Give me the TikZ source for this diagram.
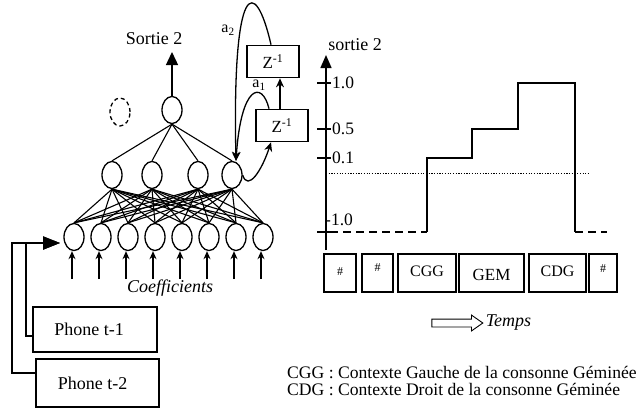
\documentclass[tikz,border=0pt]{standalone}
\usepackage{fontspec}
\setmainfont{Liberation Serif}
\usepackage{tikz}
\usetikzlibrary{
  positioning,
  shapes.geometric,
  shapes.arrows,
  arrows.meta,
  calc
}
\definecolor{inkcol}{RGB}{0,0,0}
\tikzset{
  neuron/.style={
    ellipse,
    draw=inkcol,
    line width=1.3pt,
    minimum width=20pt,
    minimum height=27pt,
    inner sep=0pt
  },
  ghost/.style={
    neuron,
    dash pattern=on 4pt off 3pt,
    minimum height=28pt
  },
  delaybox/.style={
    rectangle,
    draw=inkcol,
    line width=1.7pt,
    minimum width=52pt,
    minimum height=32pt,
    inner sep=0pt,
    font=\fontsize{17}{17}\selectfont
  },
  phonebox/.style={
    rectangle,
    draw=inkcol,
    line width=1.7pt,
    inner sep=0pt
  },
  segbox/.style={
    rectangle,
    draw=inkcol,
    line width=2pt,
    minimum height=38pt,
    inner sep=0pt
  },
  link/.style={line width=1.1pt, color=inkcol},
  inarrow/.style={-{Stealth[length=8pt,width=7pt]}, line width=1.3pt},
  outarrow/.style={-{Triangle[length=13pt,width=12pt]}, line width=1.4pt},
  looparrow/.style={-{Stealth[length=9pt,width=8pt]}, line width=1.3pt},
  feedarrow/.style={-{Triangle[length=17pt,width=13pt]}, line width=1.8pt},
  steps/.style={line width=1.8pt},
  lowlevel/.style={line width=1.8pt, dash pattern=on 8pt off 5pt},
  threshold/.style={line width=1pt, dash pattern=on 1.2pt off 1.5pt},
  bigtext/.style={font=\fontsize{18}{18}\selectfont, inner sep=0pt},
  ticktext/.style={font=\fontsize{17.5}{17.5}\selectfont, inner sep=0pt, anchor=west},
  segtext/.style={font=\fontsize{16}{16}\selectfont, inner sep=0pt},
  hashtext/.style={font=\fontsize{12}{12}\selectfont, inner sep=0pt}
}

\begin{document}
\begin{tikzpicture}[x=1pt, y=-1pt]
  \useasboundingbox (0,0) rectangle (644,408);

  % Output neuron
  \node[neuron] (top) at (172,110) {};
  \node[ghost] (spare) at (120,112) {};
  \coordinate (outtip) at (172,52);
  \node[bigtext] at (154,39) {Sortie 2};
  \draw[outarrow] (top.north) -- (outtip);

  % Hidden layer
  \node[neuron] (hid1) at (112,175) {};
  \node[neuron] (hid2) at (152,175) {};
  \node[neuron] (hid3) at (198,175) {};
  \node[neuron] (hid4) at (232,175) {};

  % Input layer
  \node[neuron] (in1) at (74,237) {};
  \node[neuron] (in2) at (101,237) {};
  \node[neuron] (in3) at (128,237) {};
  \node[neuron] (in4) at (155,237) {};
  \node[neuron] (in5) at (182,237) {};
  \node[neuron] (in6) at (209,237) {};
  \node[neuron] (in7) at (236,237) {};
  \node[neuron] (in8) at (263,237) {};

  % Connections
  \draw[link] (top.south) edge (hid1.north) edge (hid2.north) edge (hid3.north) edge (hid4.north);
  \draw[link] (hid1.south) edge (in1.north) edge (in2.north) edge (in3.north) edge (in4.north)
    edge (in5.north) edge (in6.north) edge (in7.north) edge (in8.north);
  \draw[link] (hid2.south) edge (in1.north) edge (in2.north) edge (in3.north) edge (in4.north)
    edge (in5.north) edge (in6.north) edge (in7.north) edge (in8.north);
  \draw[link] (hid3.south) edge (in1.north) edge (in2.north) edge (in3.north) edge (in4.north)
    edge (in5.north) edge (in6.north) edge (in7.north) edge (in8.north);
  \draw[link] (hid4.south) edge (in1.north) edge (in2.north) edge (in3.north) edge (in4.north)
    edge (in5.north) edge (in6.north) edge (in7.north) edge (in8.north);

  % Coefficient inputs
  \draw[inarrow] ([xshift=-2pt,yshift=-28pt]in1.south) -- ([xshift=-2pt]in1.south);
  \draw[inarrow] ([xshift=-2pt,yshift=-28pt]in2.south) -- ([xshift=-2pt]in2.south);
  \draw[inarrow] ([xshift=-2pt,yshift=-28pt]in3.south) -- ([xshift=-2pt]in3.south);
  \draw[inarrow] ([xshift=-2pt,yshift=-28pt]in4.south) -- ([xshift=-2pt]in4.south);
  \draw[inarrow] ([xshift=-2pt,yshift=-28pt]in5.south) -- ([xshift=-2pt]in5.south);
  \draw[inarrow] ([xshift=-2pt,yshift=-28pt]in6.south) -- ([xshift=-2pt]in6.south);
  \draw[inarrow] ([xshift=-2pt,yshift=-28pt]in7.south) -- ([xshift=-2pt]in7.south);
  \draw[inarrow] ([xshift=-2pt,yshift=-28pt]in8.south) -- ([xshift=-2pt]in8.south);
  \node[bigtext, font=\fontsize{18}{18}\selectfont\itshape] at (170,288) {Coefficients};

  % Delay loop
  \node[delaybox] (upz) at (273,61.5) {Z\textsuperscript{-1}};
  \node[delaybox] (lowz) at (282,125.5) {Z\textsuperscript{-1}};
  \draw[looparrow] ([xshift=-2pt]lowz.north) -- ([xshift=7pt]upz.south);
  \draw[looparrow] (hid4.east) .. controls (248,192) and (262,170) .. ([xshift=-11pt]lowz.south);
  \draw[looparrow] ([xshift=-13pt]lowz.north) .. controls (262,80) and (241,85) .. ([xshift=4pt]hid4.north);
  \draw[looparrow] ([xshift=-2pt]upz.north) .. controls (255,-25) and (232,-20) .. ([xshift=4pt]hid4.north);
  \node[bigtext, font=\fontsize{16}{16}\selectfont] at (228,30) {a\textsubscript{2}};
  \node[bigtext, font=\fontsize{16}{16}\selectfont] at (259,85) {a\textsubscript{1}};

  % Previous phones
  \node[phonebox, minimum width=124pt, minimum height=45pt] (phone1) at (95,329.5) {};
  \node[bigtext] at ([xshift=-6pt]phone1) {Phone t-1};
  \node[phonebox, minimum width=123pt, minimum height=48pt] (phone2) at (97.5,383) {};
  \node[bigtext] at ([xshift=-5pt]phone2) {Phone t-2};
  \coordinate (entry) at (60,243);
  \draw[feedarrow] ([yshift=10pt]phone2.west) -- ++(-23,0) |- (entry);
  \draw[feedarrow] ([yshift=-6.5pt]phone1.west) -- ++(-6,0) |- (entry);

  % Output chart
  \coordinate (axbot) at (326,250);
  \coordinate (axtop) at (326,55);
  \draw[-{Triangle[length=13pt,width=11pt]}, line width=1.5pt] (axbot) -- (axtop);
  \node[bigtext] at (355,45) {sortie 2};
  \draw[steps] (317,83) -- (331,83);
  \draw[steps] (317,129) -- (331,129);
  \draw[steps] (317,158) -- (331,158);
  \draw[steps] (317,232) -- (331,232);
  \node[ticktext] at (332,83) {1.0};
  \node[ticktext] at (332,129) {0.5};
  \node[ticktext] at (332,158) {0.1};
  \node[ticktext] at (325,220) {-1.0};
  \draw[threshold] (326,173) -- (590,173);
  \draw[lowlevel] (317,232) -- (427,232);
  \draw[steps] (427,232) |- (472,158) |- (518,129) |- (575,83) -- (575,232);
  \draw[lowlevel] (575,232) -- (607,232);

  % Segments
  \node[segbox, minimum width=32pt] (seg1) at (340,273) {};
  \node[hashtext] at ([yshift=1pt]seg1) {\#};
  \node[segbox, minimum width=31pt] (seg2) at (377.5,273) {};
  \node[hashtext] at ([yshift=5pt]seg2) {\#};
  \node[segbox, minimum width=58pt] (seg3) at (427,273) {};
  \node[segtext] at ([yshift=2pt]seg3) {CGG};
  \node[segbox, minimum width=65pt] (seg4) at (491.5,273) {};
  \node[segtext, font=\fontsize{17}{17}\selectfont] at ([yshift=-2pt]seg4) {GEM};
  \node[segbox, minimum width=57pt] (seg5) at (557.5,273) {};
  \node[segtext] at ([yshift=2pt]seg5) {CDG};
  \node[segbox, minimum width=28pt] (seg6) at (603,273) {};
  \node[hashtext] at ([yshift=4pt]seg6) {\#};

  % Time axis
  \node[single arrow, draw=inkcol, line width=0.9pt, minimum height=51pt,
    inner xsep=0pt, inner ysep=3.5pt, single arrow head extend=4pt,
    single arrow tip angle=70] (timearrow) at (454.5,323) {};
  \node[bigtext, font=\fontsize{18}{18}\selectfont\itshape, right=2pt of timearrow] {Temps};

  % Legend
  \node[bigtext, anchor=west, align=left, font=\fontsize{17.6}{17}\selectfont] (legend) at (287,381)
    {CGG : Contexte Gauche de la consonne Géminée\\CDG : Contexte Droit de la consonne Géminée};

\end{tikzpicture}
\end{document}
